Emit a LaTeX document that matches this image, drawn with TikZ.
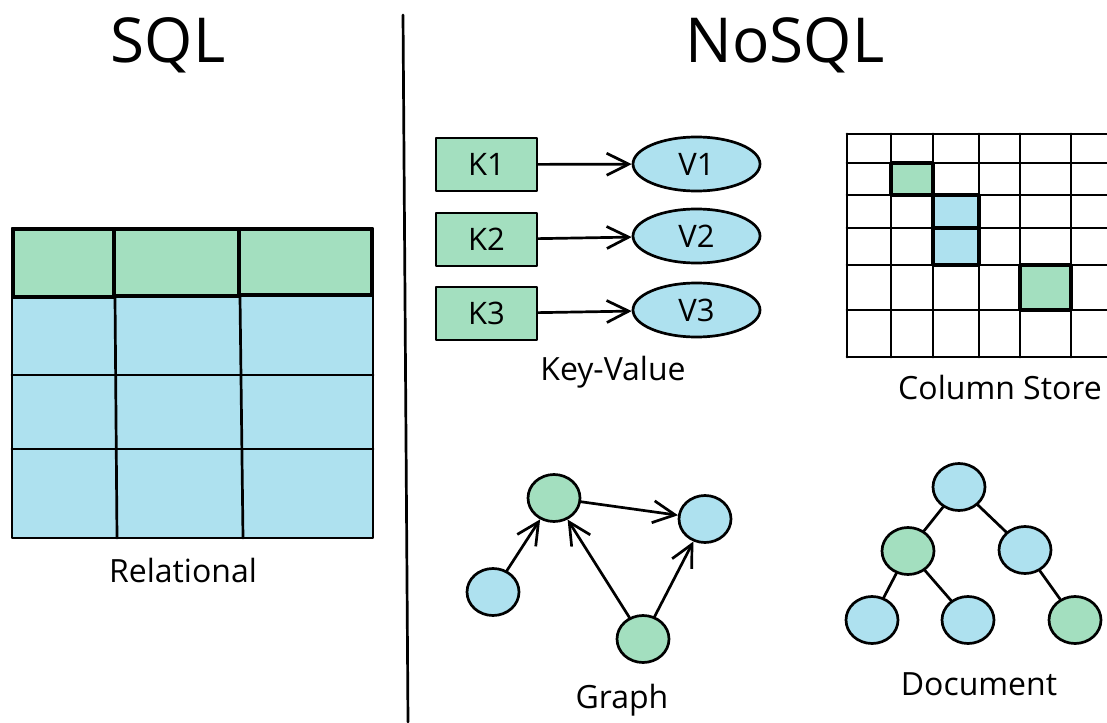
\documentclass[tikz,border=0pt]{standalone}
\usepackage{fontspec}
\setmainfont{Open Sans}
\usetikzlibrary{arrows.meta,shapes.geometric}
\definecolor{mint}{RGB}{163,223,191}
\definecolor{sky}{RGB}{174,225,239}
\begin{document}
\begin{tikzpicture}[x=1pt,y=-1pt,
 line width=2.7pt, line join=round, line cap=round,
 titletext/.style={font=\fontsize{62}{70}\selectfont},
 caption/.style={font=\fontsize{32}{36}\selectfont},
 keybox/.style={draw, fill=mint, minimum width=101pt, minimum height=53pt, inner sep=0pt, font=\fontsize{31}{34}\selectfont},
 valnode/.style={draw, ellipse, fill=sky, minimum width=127pt, minimum height=54pt, inner sep=0pt, font=\fontsize{31}{34}\selectfont},
 gnode/.style={draw, ellipse, minimum width=52pt, minimum height=47pt, inner sep=0pt},
 arr/.style={-{Straight Barb[length=22pt,width=22pt]}},
]
\useasboundingbox (0,0) rectangle (1107,722);

% divider
\draw (403,15) -- (408,722);

% titles
\node[titletext] (sqlt) at (168,45) {SQL};
\node[titletext] (nosqlt) at (785,45) {NoSQL};

% Relational table
\fill[sky] (12,296) rectangle (373,538);
\fill[mint] (12,228) rectangle (373,297);
\draw (12,375) -- (373,375);
\draw (12,449) -- (373,449);
\draw (115,297) -- (117,538);
\draw (240,297) -- (243,538);
\draw (12,228) rectangle (373,538);
\draw[line width=3.6pt] (13,229) rectangle (114,297);
\draw[line width=3.6pt] (114,229) rectangle (239,296);
\draw[line width=3.6pt] (239,229) rectangle (372,295);
\node[caption] (relcap) at (183,570) {Relational};

% Key-Value
\node[keybox] (k1) at (486.5,164.5) {K1};
\node[keybox] (k2) at (486.5,239.5) {K2};
\node[keybox] (k3) at (486.5,313.5) {K3};
\node[valnode] (v1) at (696.5,164) {V1};
\node[valnode] (v2) at (696.5,236) {V2};
\node[valnode] (v3) at (696.5,310) {V3};
\draw[arr] (k1) -- (v1);
\draw[arr] (k2) -- (v2);
\draw[arr] (k3) -- (v3);
\node[caption] (kvcap) at (613,372) {Key-Value};

% Column store
\foreach \yy in {134,163,195,228,265,310,357} {
  \draw (847,\yy) -- (1107,\yy);
}
\foreach \xx in {847,891,933,979,1020,1071} {
  \draw (\xx,134) -- (\xx,357);
}
\filldraw[fill=mint, line width=3.6pt] (891,163) rectangle (933,195);
\filldraw[fill=sky, line width=3.6pt] (933,195) rectangle (979,228);
\filldraw[fill=sky, line width=3.6pt] (933,228) rectangle (979,265);
\filldraw[fill=mint, line width=3.6pt] (1020,265) rectangle (1071,310);
\node[caption] (cscap) at (1000,387) {Column Store};

% Graph
\node[gnode, fill=mint] (g1) at (554,498) {};
\node[gnode, fill=sky] (g2) at (705,519) {};
\node[gnode, fill=sky] (g3) at (493,592) {};
\node[gnode, fill=mint] (g4) at (643,639) {};
\draw[arr] (g3) -- (g1);
\draw[arr] (g4) -- (g1);
\draw[arr] (g1) -- (g2);
\draw[arr] (g4) -- (g2);
\node[caption] (grcap) at (622,700) {Graph};

% Document
\node[gnode, fill=sky] (d1) at (959,487) {};
\node[gnode, fill=mint] (d2) at (908,551) {};
\node[gnode, fill=sky] (d3) at (1025,550) {};
\node[gnode, fill=sky] (d4) at (872,620) {};
\node[gnode, fill=sky] (d5) at (968,620) {};
\node[gnode, fill=mint] (d6) at (1075,620) {};
\draw (d1) -- (d2);
\draw (d1) -- (d3);
\draw (d2) -- (d4);
\draw (d2) -- (d5);
\draw (d3) -- (d6);
\node[caption] (doccap) at (979,684) {Document};
\end{tikzpicture}
\end{document}
